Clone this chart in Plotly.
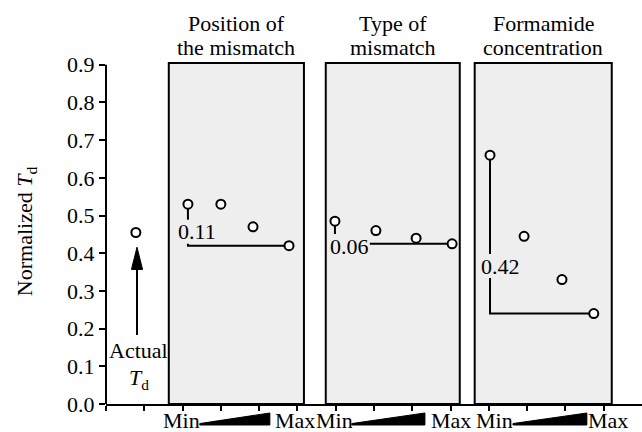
import plotly.graph_objects as go

FONT = "Liberation Serif, Times New Roman, serif"
FS = 22

# ---- data -------------------------------------------------------------
actual_x = [0.78]
actual_y = [0.455]

panel_titles = ["Position of<br>the mismatch", "Type of<br>mismatch", "Formamide<br>concentration"]

position_x = [2.14, 3.0, 3.84, 4.78]
position_y = [0.53, 0.53, 0.47, 0.42]

type_x = [5.98, 7.05, 8.10, 9.04]
type_y = [0.485, 0.46, 0.44, 0.425]

formamide_x = [10.03, 10.92, 11.91, 12.74]
formamide_y = [0.66, 0.445, 0.33, 0.24]

y_tick_values = [0.0, 0.1, 0.2, 0.3, 0.4, 0.5, 0.6, 0.7, 0.8, 0.9]
x_tick_positions = list(range(14))
range_labels = ["Min", "Max", "Min", "Max", "Min", "Max"]
range_label_x = [1.97, 4.94, 5.97, 9.01, 10.16, 13.11]

# ---- layout helpers ---------------------------------------------------
X_RANGE = [0, 14.0]
Y_RANGE = [0, 0.91]
PANEL_FILL = "#eeeeee"
panel_extents = [(1.64, 5.17), (5.74, 9.24), (9.63, 13.21)]
panel_top = 0.905
title_line_y = [1.108, 1.038]
spread_label_pos = [(2.37, 0.457), (6.37, 0.419), (10.31, 0.366)]
LABEL_HALF_W = 0.52   # x units
LABEL_HALF_H = 0.032  # y units
wedge_spans = [(2.45, 4.28), (6.42, 8.33), (10.63, 12.56)]


def xp(v):
    return (v - X_RANGE[0]) / (X_RANGE[1] - X_RANGE[0])


def text(s, **kw):
    d = dict(text=s, showarrow=False, font=dict(family=FONT, size=FS, color="black"))
    d.update(kw)
    return d


series = [(position_x, position_y), (type_x, type_y), (formamide_x, formamide_y)]

fig = go.Figure()
shapes = []
annotations = []

# shaded panels
for (x0, x1) in panel_extents:
    shapes.append(dict(type="rect", xref="x", yref="y", x0=x0, x1=x1, y0=0, y1=panel_top,
                       fillcolor=PANEL_FILL, line=dict(color="black", width=2), layer="below"))

# y-axis line stops at 0.9
shapes.append(dict(type="line", xref="paper", yref="y", x0=0, x1=0, y0=0, y1=0.9,
                   line=dict(color="black", width=2)))

# spread brackets: down from the highest value, across to the lowest,
# broken where the spread label sits
for i, (xs, ys) in enumerate(series):
    hi, lo = max(ys), min(ys)
    xa, xb = xs[ys.index(hi)], xs[ys.index(lo)]
    lx, ly = spread_label_pos[i]
    gx0, gx1 = lx - LABEL_HALF_W, lx + LABEL_HALF_W
    gy0, gy1 = ly - LABEL_HALF_H, ly + LABEL_HALF_H
    bx, by = [], []
    # vertical part
    if gx0 <= xa <= gx1:
        top_end = max(gy1, lo)
        bx += [xa, xa, None]
        by += [hi, top_end, None]
        if gy0 > lo:
            bx += [xa, xa]
            by += [gy0, lo]
        else:
            bx += [None]
            by += [None]
    else:
        bx += [xa, xa]
        by += [hi, lo]
    # horizontal part
    start = gx1 if gy0 <= lo <= gy1 else xa
    bx += [None, start, xb] if bx[-1] is None else [xb]
    by += [None, lo, lo] if by[-1] is None else [lo]
    fig.add_trace(go.Scatter(x=bx, y=by, mode="lines", connectgaps=False,
                             line=dict(color="black", width=2), hoverinfo="skip",
                             showlegend=False))
    annotations.append(text(f"{hi - lo:.2f}", x=lx, y=ly, xref="x", yref="y"))

# data points
all_x = actual_x + position_x + type_x + formamide_x
all_y = actual_y + position_y + type_y + formamide_y
fig.add_trace(go.Scatter(x=all_x, y=all_y, mode="markers",
                         marker=dict(symbol="circle", size=9, color="white",
                                     line=dict(color="black", width=2)),
                         showlegend=False))

# arrow pointing at the actual value
arrow_x, tail_y, base_y, tip_y = 0.81, 0.183, 0.357, 0.416
half_w = 0.145
shapes.append(dict(type="line", xref="x", yref="y", x0=arrow_x, x1=arrow_x, y0=tail_y, y1=base_y + 0.01,
                   line=dict(color="black", width=2)))
shapes.append(dict(type="path", xref="x", yref="y",
                   path=f"M {arrow_x - half_w},{base_y} L {arrow_x + half_w},{base_y} L {arrow_x},{tip_y} Z",
                   fillcolor="black", line=dict(color="black", width=1)))
annotations.append(text("Actual", x=0.84, y=0.143, xref="x", yref="y"))
annotations.append(text("<i>T</i><sub>d</sub>", x=0.86, y=0.066, xref="x", yref="y"))

# panel titles, one annotation per line
for (x0, x1), title in zip(panel_extents, panel_titles):
    for line, ty in zip(title.split("<br>"), title_line_y):
        annotations.append(text(line, x=(x0 + x1) / 2, y=ty, xref="x", yref="paper",
                                yanchor="middle"))

# y-axis title
annotations.append(text("Normalized <i>T</i><sub>d</sub>", x=-0.179, y=0.504,
                        xref="paper", yref="paper", textangle=-90))

# Min / Max labels under each panel
for lbl, lx in zip(range_labels, range_label_x):
    annotations.append(text(lbl, x=lx, y=-0.047, xref="x", yref="paper",
                            yanchor="middle", height=22, valign="middle"))

# ramps between Min and Max
yb, yt, ytl = -0.0612, -0.0262, -0.057
for (a, b) in wedge_spans:
    shapes.append(dict(type="path", xref="paper", yref="paper",
                       path=f"M {xp(a)},{yb} L {xp(b)},{yb} L {xp(b)},{yt} L {xp(a)},{ytl} Z",
                       fillcolor="black", line=dict(color="black", width=1)))

fig.update_layout(
    width=642, height=432, autosize=False,
    margin=dict(l=106, r=0, t=61, b=28),
    paper_bgcolor="white", plot_bgcolor="white",
    font=dict(family=FONT, size=FS, color="black"),
    shapes=shapes, annotations=annotations,
    xaxis=dict(range=X_RANGE, showgrid=False, zeroline=False, showline=True, automargin=False,
               linecolor="black", linewidth=2, ticks="outside", ticklen=5, tickwidth=2,
               tickcolor="black", tickvals=x_tick_positions, showticklabels=False),
    yaxis=dict(range=Y_RANGE, showgrid=False, zeroline=False, showline=False, automargin=False,
               ticks="outside", ticklen=6, tickwidth=2, tickcolor="black",
               tickvals=y_tick_values, tickformat=".1f",
               tickfont=dict(family=FONT, size=FS, color="black")),
)

fig.write_html("out.html")
